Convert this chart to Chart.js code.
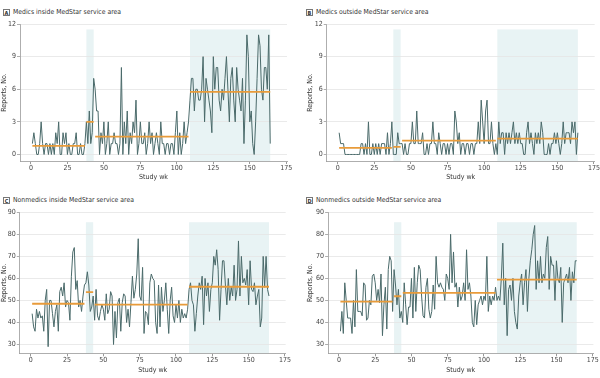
<!DOCTYPE html>
<html>
<head>
<meta charset="utf-8">
<script src="https://cdn.jsdelivr.net/npm/chart.js@4.4.1/dist/chart.umd.min.js"></script>
<style>
  body { margin: 0; background: #fff; }
  #wrap { position: relative; width: 600px; height: 378px; font-family: "Liberation Sans Narrow", "DejaVu Sans Condensed", sans-serif; }
  .panel { position: absolute; width: 300px; height: 189px; }
  .ttl { position: absolute; font-size: 6.8px; color: #333; white-space: nowrap; line-height: 8px; }
  .ttl b { display: inline-block; box-sizing: border-box; width: 7px; height: 7px; border: 0.7px solid #777; font-size: 5.5px; line-height: 6px; text-align: center; margin-right: 3px; vertical-align: -1px; }
</style>
</head>
<body>
<div id="wrap">
  <div class="ttl" style="left:3px; top:8px;"><b>A</b>Medics inside MedStar service area</div>
  <div class="ttl" style="left:306px; top:8px;"><b>B</b>Medics outside MedStar service area</div>
  <div class="ttl" style="left:3px; top:196px;"><b>C</b>Nonmedics inside MedStar service area</div>
  <div class="ttl" style="left:306px; top:196px;"><b>D</b>Nonmedics outside MedStar service area</div>
  <canvas id="chart-a" class="panel" width="300" height="189" style="left:0; top:0;"></canvas>
  <canvas id="chart-b" class="panel" width="300" height="189" style="left:300px; top:0;"></canvas>
  <canvas id="chart-c" class="panel" width="300" height="189" style="left:0; top:189px;"></canvas>
  <canvas id="chart-d" class="panel" width="300" height="189" style="left:300px; top:189px;"></canvas>
</div>
<script>
// study weeks 1..164, split into 4 periods
const firstWeek = 1;
const lastWeek = 164;
const periodStart = [1, 38, 44, 109];
const periodEnd = [37, 43, 108, 164];
const bandStart = [38, 109];
const bandEnd = [43, 164];
const xTicks = [0, 25, 50, 75, 100, 125, 150, 175];
const yTicksMedic = [0, 3, 6, 9, 12];
const yTicksNonmedic = [30, 40, 50, 60, 70, 80, 90];

const medicsInside = [
  1, 2, 1, 0, 0, 1, 3, 1, 0, 1, 1, 0, 1, 0, 1, 0, 2, 1, 3, 0, 0, 2, 1, 2, 0, 1, 0, 0, 1, 1, 2, 0, 0, 1, 0, 0, 1,
  3, 1, 4, 1, 2, 7,
  6, 4, 4, 0, 2, 1, 3, 0, 1, 3, 0, 1, 1, 2, 1, 1, 0, 1, 8, 0, 3, 1, 4, 0, 2, 1, 3, 2, 5, 0,
  1, 3, 1, 1, 2, 0, 1, 3, 1, 2, 0, 1, 2, 1, 0, 3, 1, 1, 0, 1, 1, 0, 1, 1, 0, 2, 4, 0, 2, 0, 1, 3, 1, 2, 3,
  5, 7, 7, 4, 6, 6, 5, 5, 6, 9, 3, 7, 6, 5, 4, 2, 9, 6, 8, 8, 5, 4, 6, 5, 7, 9, 6, 3, 7, 8,
  5, 3, 8, 6, 5, 4, 7, 1, 5, 11, 9, 3, 4, 1, 0, 3, 7, 11, 10, 6, 5, 8, 8, 6, 11, 1,
];
const medicsOutside = [
  2, 1, 1, 1, 0, 0, 0, 0, 0, 0, 0, 0, 0, 0, 0, 1, 1, 0, 1, 0, 3, 0, 0, 1, 0, 1, 0, 1, 0, 1, 1, 1, 0, 2, 0, 1, 3,
  0, 0, 0, 2, 1, 1,
  1, 0, 1, 0, 0, 1, 1, 3, 1, 1, 4, 1, 1, 1, 2, 0, 0, 1, 0, 1, 1, 3, 1, 1, 0, 2, 1, 0, 1, 1,
  0, 1, 0, 1, 1, 0, 4, 3, 1, 2, 0, 1, 1, 0, 1, 1, 0, 1, 1, 0, 1, 1, 3, 1, 5, 3, 1, 4, 5, 1, 1, 3, 1, 0, 1,
  0, 3, 1, 2, 2, 0, 2, 1, 2, 1, 2, 3, 1, 2, 1, 2, 1, 1, 0, 0, 2, 3, 1, 2, 1, 0, 2, 1, 2, 1,
  3, 2, 0, 0, 0, 1, 0, 1, 1, 2, 1, 2, 1, 0, 1, 3, 1, 2, 2, 2, 1, 3, 2, 3, 0, 2,
];
const nonmedicsInside = [
  44, 38, 36, 46, 42, 45, 42, 43, 36, 50, 55, 29, 50, 50, 44, 38, 45, 48, 36, 54,
  56, 52, 58, 47, 50, 49, 41, 61, 72, 74, 55, 59, 47, 50, 45, 52, 57,
  58, 63, 57, 45, 47, 52,
  41, 55, 43, 41, 45, 48, 46, 41, 53, 44, 46, 54, 52, 30, 45, 33, 49, 51, 36, 49,
  53, 52, 40, 46, 38, 49, 61, 51, 55, 62, 78, 52, 50, 65, 35, 45, 44, 39, 58, 62,
  60, 59, 40, 35, 57, 38, 56, 45, 50, 58, 46, 35, 50, 56, 43, 40, 48, 42, 50, 40,
  46, 42, 44, 42, 46,
  55, 58, 50, 48, 36, 44, 52, 58, 55, 61, 39, 60, 52, 58, 45, 55, 58, 70, 66, 73,
  64, 41, 55, 68, 68, 57, 48, 60, 50, 56, 52, 66, 50, 55, 77, 52, 70, 58, 60, 57,
  64, 48, 68, 55, 54, 58, 48, 52, 55, 38, 42, 70, 56, 70, 55, 52,
];
const nonmedicsOutside = [
  36, 45, 35, 58, 50, 42, 42, 42, 35, 50, 38, 64, 45, 45, 45, 43, 58, 57, 41, 42,
  50, 48, 61, 62, 58, 50, 55, 49, 62, 34, 48, 56, 37, 64, 70, 68, 45,
  64, 57, 48, 55, 42, 45,
  40, 58, 48, 39, 47, 47, 60, 42, 65, 45, 58, 66, 64, 52, 43, 42, 56, 60, 46, 42,
  45, 57, 46, 70, 58, 56, 58, 56, 55, 50, 62, 60, 55, 80, 58, 72, 56, 58, 47, 56,
  50, 52, 58, 50, 73, 55, 58, 52, 40, 38, 50, 39, 48, 50, 52, 48, 52, 50, 70, 45,
  52, 48, 52, 50, 56,
  50, 52, 50, 60, 76, 48, 60, 34, 55, 57, 50, 60, 45, 40, 37, 52, 58, 62, 48, 58,
  64, 45, 60, 68, 73, 80, 84, 55, 68, 58, 70, 58, 62, 60, 74, 79, 55, 70, 66, 66,
  50, 68, 60, 58, 65, 40, 58, 60, 62, 58, 65, 50, 63, 58, 68, 68,
];

// period means
const meansMedicsInside = [0.8, 3.0, 1.65, 5.75];
const meansMedicsOutside = [0.6, 0.7, 1.27, 1.45];
const meansNonmedicsInside = [48.5, 53.8, 48.1, 56.2];
const meansNonmedicsOutside = [49.5, 51.9, 53.4, 59.4];

const weeks = Array.from({ length: lastWeek - firstWeek + 1 }, (_, i) => firstWeek + i);

Chart.defaults.font.family = '"Liberation Sans Narrow", "DejaVu Sans Condensed", sans-serif';
Chart.defaults.color = "#444";

const shading = (top) => ({
  id: "shading",
  beforeDraw(chart) {
    const { ctx, chartArea, scales } = chart;
    ctx.save();
    ctx.fillStyle = "#e8f3f4";
    bandStart.forEach((s, i) => {
      const x1 = scales.x.getPixelForValue(s);
      const x2 = scales.x.getPixelForValue(bandEnd[i]);
      const y1 = scales.y.getPixelForValue(top);
      ctx.fillRect(x1, y1, x2 - x1, chartArea.bottom - y1);
    });
    ctx.restore();
  },
});

function makeChart(id, values, means, yMin, yMax, yTicks, bandTop, box) {
  const series = {
    data: weeks.map((w, i) => ({ x: w, y: values[i] })),
    borderColor: "#4a6a6a",
    borderWidth: 1,
    pointRadius: 0,
    order: 1,
  };
  const meanLines = means.map((m, i) => ({
    data: [{ x: periodStart[i], y: m }, { x: periodEnd[i], y: m }],
    borderColor: "#e89b3a",
    borderWidth: 1.8,
    pointRadius: 0,
    order: 0,
  }));
  new Chart(document.getElementById(id), {
    type: "line",
    data: { datasets: [series, ...meanLines] },
    options: {
      responsive: false,
      animation: false,
      layout: { padding: { left: box.padLeft, right: box.padRight, top: box.padTop, bottom: 0 } },
      plugins: { legend: { display: false }, tooltip: { enabled: false } },
      scales: {
        x: {
          type: "linear",
          min: -7.5,
          max: 175.5,
          afterBuildTicks: (s) => { s.ticks = xTicks.map((v) => ({ value: v })); },
          afterFit: (s) => { s.height = box.xHeight; },
          grid: { drawOnChartArea: false, tickLength: 3, tickColor: "#999" },
          border: { color: "#999", width: 0.8 },
          ticks: { font: { size: 7 }, color: "#444", padding: 0, maxRotation: 0, autoSkip: false },
          title: { display: true, text: "Study wk", font: { size: 7 }, color: "#333", padding: { top: 0, bottom: box.titlePad } },
        },
        y: {
          min: yMin,
          max: yMax,
          afterBuildTicks: (s) => { s.ticks = yTicks.map((v) => ({ value: v })); },
          afterFit: (s) => { s.width = box.yWidth; },
          grid: { color: "#e4e4e4", lineWidth: 0.8, tickLength: 3, tickColor: "#999" },
          border: { color: "#999", width: 0.8 },
          ticks: { font: { size: 7 }, color: "#444", padding: 1 },
          title: { display: true, text: "Reports, No.", font: { size: 7 }, color: "#333", padding: 0 },
        },
      },
    },
    plugins: [shading(bandTop)],
  });
}

makeChart("chart-a", medicsInside, meansMedicsInside, -0.6, 12, yTicksMedic, 11.5,
  { padLeft: 0, yWidth: 20, padRight: 13, padTop: 24, xHeight: 28, titlePad: 7.5 });
makeChart("chart-b", medicsOutside, meansMedicsOutside, -0.6, 12, yTicksMedic, 11.5,
  { padLeft: 6, yWidth: 20.7, padRight: 5.3, padTop: 24, xHeight: 28, titlePad: 7.5 });
makeChart("chart-c", nonmedicsInside, meansNonmedicsInside, 26, 90, yTicksNonmedic, 85.5,
  { padLeft: 0, yWidth: 19.8, padRight: 14.3, padTop: 23.3, xHeight: 24.7, titlePad: 3.5 });
makeChart("chart-d", nonmedicsOutside, meansNonmedicsOutside, 26, 90, yTicksNonmedic, 85.5,
  { padLeft: 6, yWidth: 22.1, padRight: 6.6, padTop: 23.3, xHeight: 24.7, titlePad: 3.5 });
</script>
</body>
</html>
